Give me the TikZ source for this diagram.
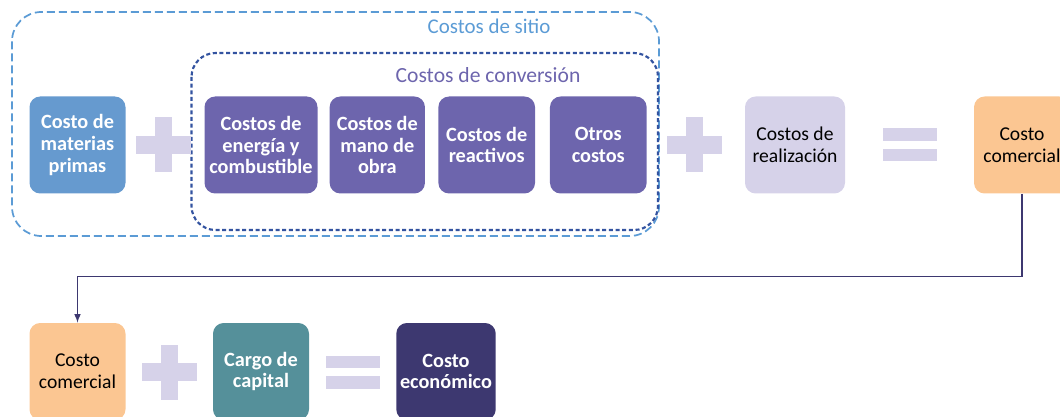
\documentclass[tikz,border=0pt]{standalone}
\usepackage{fontspec}
\setmainfont{Carlito}
\usepackage{tikz}
\definecolor{rawblue}{HTML}{669ACF}
\definecolor{convpurple}{HTML}{6D65AD}
\definecolor{lavender}{HTML}{D6D2E9}
\definecolor{peach}{HTML}{FBC692}
\definecolor{teal}{HTML}{55909A}
\definecolor{darkpurple}{HTML}{3D3870}
\definecolor{siteblue}{HTML}{5B9BD5}
\definecolor{convblue}{HTML}{3353A0}
\tikzset{
  costbox/.style={rounded corners=8pt,inner sep=0pt,align=center,
    minimum height=72.75pt,font=\fontsize{14.7}{16.4}\selectfont},
  boldbox/.style={costbox,text=white,font=\fontsize{15.2}{16.2}\selectfont\bfseries},
  opsign/.style={fill=lavender}
}
\begin{document}
\begin{tikzpicture}[x=0.75pt,y=-0.75pt]
			\useasboundingbox (0,0) rectangle (1060,417);
			\clip (0,0) rectangle (1060,417);
			% frames
			\draw[siteblue,line width=1.3pt,dash pattern=on 6pt off 3pt,rounded corners=22pt] (12,12) rectangle (659,236);
			\draw[convblue,line width=1.6pt,dash pattern=on 3pt off 2pt,rounded corners=18pt] (191.5,53) rectangle (658,230);
			\node[siteblue,font=\fontsize{15.7}{17}\selectfont] (sitio) at (489,26) {Costos de sitio};
			\node[convpurple,font=\fontsize{16.2}{18}\selectfont] (conversion) at (488,75) {Costos de conversión};
			% first row
			\node[boldbox,fill=rawblue,minimum width=72pt] (materias) at (77.5,145) {Costo de\\materias\\primas};
			\node[boldbox,fill=convpurple,minimum width=84.75pt] (energia) at (261,145) {Costos de\\energía y\\combustible};
			\node[boldbox,fill=convpurple,minimum width=71.5pt] (manoobra) at (377.3,145) {Costos de\\mano de\\obra};
			\node[boldbox,fill=convpurple,minimum width=72.5pt] (reactivos) at (486.7,145) {Costos de\\reactivos};
			\node[boldbox,fill=convpurple,minimum width=72.5pt] (otros) at (598.3,145) {Otros\\costos};
			\node[costbox,fill=lavender,minimum width=75pt] (realizacion) at (795,145) {Costos de\\realización};
			\node[costbox,fill=peach,minimum width=72pt] (comercialA) at (1022,145) {Costo\\comercial};
			% second row
			\node[costbox,fill=peach,minimum width=72pt] (comercialB) at (77.5,371.5) {Costo\\comercial};
			\node[boldbox,fill=teal,minimum width=72pt] (capital) at (261,371.5) {Cargo de\\capital};
			\node[boldbox,fill=darkpurple,minimum width=74.6pt] (economico) at (446,371.5) {Costo\\económico};
			% signs
			\foreach \cx/\cy in {163.5/145,694.5/145,169.3/372}{
				\fill[opsign] ({\cx-27.5},{\cy-9}) rectangle ({\cx+27.5},{\cy+9});
				\fill[opsign] ({\cx-8.7},{\cy-27.5}) rectangle ({\cx+8.7},{\cy+27.5});
			}
			\foreach \cx/\cy in {909.8/145,352.8/372}{
				\fill[opsign] ({\cx-27.3},{\cy-16.5}) rectangle ({\cx+27.3},{\cy-3.7});
				\fill[opsign] ({\cx-27.3},{\cy+3.7}) rectangle ({\cx+27.3},{\cy+16.5});
			}
			% link
			\draw[darkpurple,line width=1.2pt,-latex] (comercialA.south) |- (77.5,276.4) -- (comercialB.north);
		\end{tikzpicture}
\end{document}
